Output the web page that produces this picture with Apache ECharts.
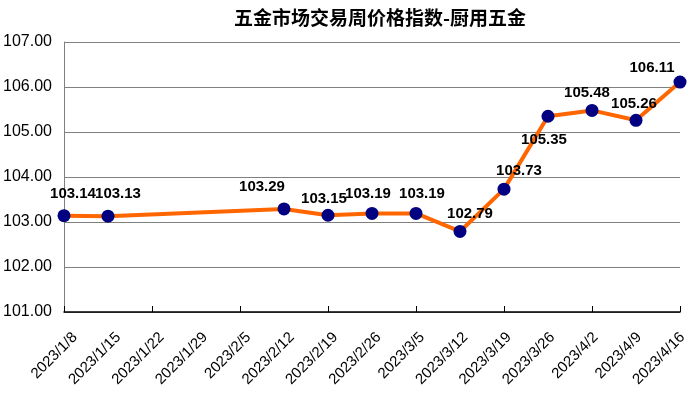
<!DOCTYPE html>
<html>
<head>
<meta charset="utf-8">
<script src="https://cdn.jsdelivr.net/npm/echarts@6/dist/echarts.min.js"></script>
<style>html,body{margin:0;padding:0;background:#fff;}#c{width:690px;height:399px;}</style>
</head>
<body>
<div id="c"></div>
<script>
const titleText = '五金市场交易周价格指数-厨用五金';
const categories = ['2023/1/8','2023/1/15','2023/1/22','2023/1/29','2023/2/5','2023/2/12','2023/2/19','2023/2/26','2023/3/5','2023/3/12','2023/3/19','2023/3/26','2023/4/2','2023/4/9','2023/4/16'];
const values = [103.14, 103.13, null, null, null, 103.29, 103.15, 103.19, 103.19, 102.79, 103.73, 105.35, 105.48, 105.26, 106.11];
const labelOffsets = [[9,-22],[10,-22],null,null,null,[-22,-22],[-4,-16],[-4,-20],[6,-20],[10,-18],[15,-18],[-4,24],[-5,-18],[-2,-16],[-28,-14]];
const yMin = 101, yMax = 107, yStep = 1;

const FONT = '"Liberation Sans", Arial, sans-serif';
const chart = echarts.init(document.getElementById('c'));
const seriesData = values.map((v, i) => {
  if (v === null) return null;
  const o = labelOffsets[i] || [0, -20];
  return { value: v, label: { offset: o } };
});
chart.setOption({
  animation: false,
  backgroundColor: '#fff',
  title: {
    text: titleText, left: 375, textAlign: 'center', top: 3,
    textStyle: { fontFamily: '"Noto Sans CJK SC", sans-serif', fontSize: 19, fontWeight: 'bold', color: '#000' }
  },
  grid: [
    { left: 64, right: 10, top: 42, bottom: 87 },
    { left: 75, right: -1, top: 42, bottom: 87 }
  ],
  xAxis: [{
    type: 'category', data: categories, boundaryGap: false, gridIndex: 0,
    axisLine: { lineStyle: { color: '#000', width: 1.5 } },
    axisTick: { inside: true, length: 6, lineStyle: { color: '#000' }, alignWithLabel: true },
    axisLabel: { show: false },
    splitLine: { show: false }
  }, {
    type: 'category', data: categories, boundaryGap: false, gridIndex: 1,
    axisLine: { show: false }, axisTick: { show: false }, splitLine: { show: false },
    axisLabel: { interval: 0, rotate: 45, margin: 23, fontFamily: FONT, fontSize: 15, color: '#000' }
  }],
  yAxis: [{
    type: 'value', min: yMin, max: yMax, interval: yStep, gridIndex: 0,
    axisLine: { show: true, lineStyle: { color: '#808080' } },
    axisTick: { show: false },
    splitLine: { lineStyle: { color: '#808080', width: 1 } },
    axisLabel: { formatter: v => v.toFixed(2), margin: 12, fontFamily: FONT, fontSize: 16, color: '#000' }
  }, {
    type: 'value', min: yMin, max: yMax, gridIndex: 1, show: false
  }],
  series: [{
    type: 'line', xAxisIndex: 0, yAxisIndex: 0, data: seriesData, connectNulls: true,
    symbol: 'circle', symbolSize: 13,
    lineStyle: { color: '#FF6600', width: 4 },
    itemStyle: { color: '#000080' },
    label: {
      show: true, position: 'inside', align: 'center', verticalAlign: 'middle',
      fontFamily: FONT, fontSize: 15, fontWeight: 'bold', color: '#000',
      formatter: p => p.value.toFixed(2)
    },
    z: 3
  }]
});
</script>
</body>
</html>
